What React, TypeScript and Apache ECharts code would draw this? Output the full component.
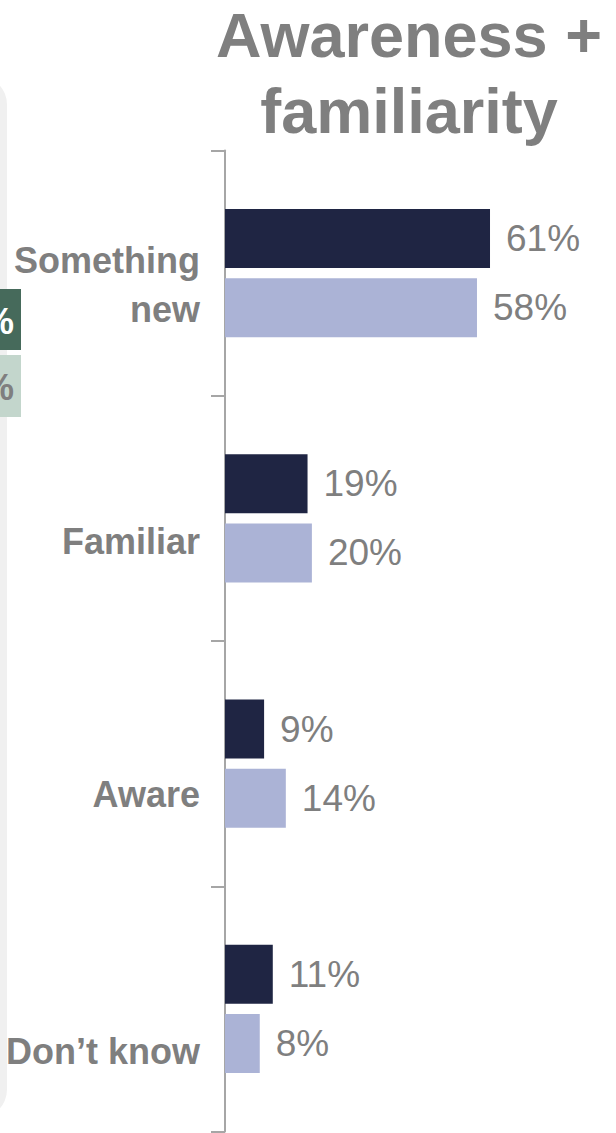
import React, { useEffect, useRef } from "react";
import * as echarts from "echarts";

const categories = ["Something\nnew", "Familiar", "Aware", "Don’t know"];
const darkValues = [61, 19, 9, 11];
const lightValues = [58, 20, 14, 8];
const titleText = "Awareness +\nfamiliarity";
const labelShifts = [12, 23, 31, 43];

const FONT = "'Liberation Sans', Arial, sans-serif";
const GRAY = "#7f7f7f";
const CAT_SIZE = 36;
const LINE_H = 49;

export default function App() {
  const ref = useRef<HTMLDivElement>(null);
  useEffect(() => {
    if (!ref.current) return;
    const chart = echarts.init(ref.current, undefined, { renderer: "svg" });
    const rich: Record<string, any> = {};
    categories.forEach((_, i) => {
      const s = labelShifts[i];
      rich["f" + i] = {
        fontSize: CAT_SIZE,
        fontWeight: "bold",
        color: GRAY,
        fontFamily: FONT,
        lineHeight: LINE_H + 2 * s,
        padding: [2 * s, 0, 0, 0],
        align: "right",
      };
      rich["n" + i] = {
        fontSize: CAT_SIZE,
        fontWeight: "bold",
        color: GRAY,
        fontFamily: FONT,
        lineHeight: LINE_H,
        align: "right",
      };
    });
    const valueLabel = {
      show: true,
      position: "right",
      distance: 16,
      formatter: "{c}%",
      fontSize: 37,
      color: GRAY,
      fontFamily: FONT,
    };
    chart.setOption({
      animation: false,
      grid: { left: 225, right: 0, top: 150.5, bottom: 1.5, containLabel: false },
      xAxis: {
        type: "value",
        min: 0,
        max: 90,
        show: false,
      },
      yAxis: {
        type: "category",
        inverse: true,
        data: categories,
        axisLine: { show: true, lineStyle: { color: "#a6a6a6", width: 2 } },
        axisTick: { show: true, length: 14, lineStyle: { color: "#a6a6a6", width: 2 } },
        axisLabel: {
          margin: 25,
          formatter: (value: string, idx: number) => {
            const lines = value.split("\n");
            return lines
              .map((l, j) => (j === 0 ? `{f${idx}|${l}}` : `{n${idx}|${l}}`))
              .join("\n");
          },
          rich,
        },
        splitLine: { show: false },
      },
      series: [
        {
          name: "Series 1",
          type: "bar",
          data: darkValues,
          barWidth: 59,
          barGap: "17%",
          itemStyle: { color: "#1f2543" },
          label: valueLabel,
        },
        {
          name: "Series 2",
          type: "bar",
          data: lightValues,
          barWidth: 59,
          barGap: "17%",
          itemStyle: { color: "#abb3d6" },
          label: valueLabel,
        },
      ],
      graphic: [
        {
          type: "rect",
          shape: { x: -50, y: 76, width: 57, height: 1042, r: 30 },
          style: { fill: "#f0f0f0" },
          z: 0,
        },
        {
          type: "rect",
          shape: { x: -10, y: 289, width: 31, height: 61 },
          style: { fill: "#466a5b" },
          z: 1,
        },
        {
          type: "rect",
          shape: { x: -10, y: 355, width: 31, height: 62 },
          style: { fill: "#c3d6cc" },
          z: 1,
        },
        {
          type: "text",
          x: 14,
          y: 321,
          z: 2,
          style: {
            text: "%",
            fontSize: 36,
            fontWeight: "bold",
            fontFamily: FONT,
            fill: "#ffffff",
            align: "right",
            verticalAlign: "middle",
          },
        },
        {
          type: "text",
          x: 14,
          y: 387,
          z: 2,
          style: {
            text: "%",
            fontSize: 36,
            fontWeight: "bold",
            fontFamily: FONT,
            fill: GRAY,
            align: "right",
            verticalAlign: "middle",
          },
        },
        {
          type: "text",
          x: 409,
          y: -3,
          z: 2,
          style: {
            text: titleText,
            fontSize: 63,
            fontWeight: "bold",
            fontFamily: FONT,
            fill: GRAY,
            lineHeight: 76,
            align: "center",
            verticalAlign: "top",
          },
        },
      ],
    });
    return () => chart.dispose();
  }, []);
  return (
    <div
      ref={ref}
      style={{ position: "fixed", left: 0, top: 0, width: 616, height: 1133, background: "#fff" }}
    />
  );
}
